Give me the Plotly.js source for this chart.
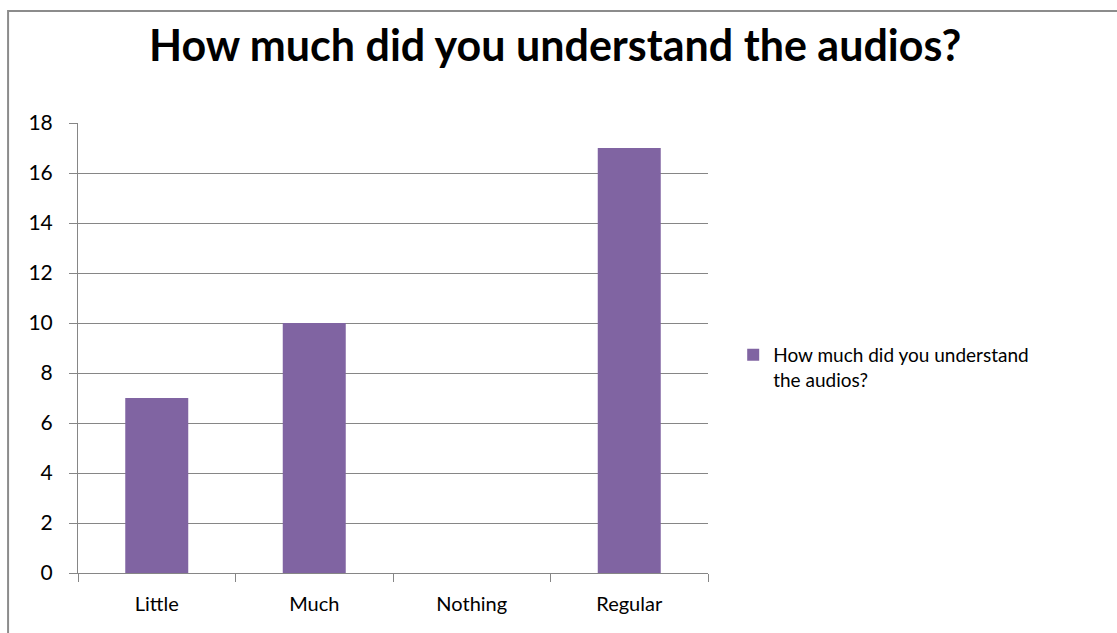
<!DOCTYPE html>
<html>
<head>
<meta charset="utf-8">
<script src="https://cdn.plot.ly/plotly-3.0.1.min.js"></script>
<style>html,body{margin:0;padding:0;background:#fff;}#chart{width:1117px;height:633px;}</style>
</head>
<body>
<div id="chart"></div>
<script>
var categories = ["Little", "Much", "Nothing", "Regular"];
var seriesName = "How much did you understand the audios?";
var values = [7, 10, 0, 17];
var yTicks = [0, 2, 4, 6, 8, 10, 12, 14, 16, 18];

var trace = {
  type: "bar",
  x: categories,
  y: values,
  name: "How much did you understand<br>the audios?",
  marker: {color: "#8064A2"},
  hoverinfo: "x+y"
};

var layout = {
  width: 1117,
  height: 633,
  margin: {l: 78, r: 409, t: 123, b: 60},
  paper_bgcolor: "#ffffff",
  plot_bgcolor: "#ffffff",
  font: {family: "Lato, 'Open Sans', sans-serif", color: "#000000", size: 19},
  title: {
    text: seriesName,
    font: {family: "Lato, 'Open Sans', sans-serif", size: 43, color: "#000000", weight: "bold"},
    x: 0.497, xanchor: "center", xref: "container",
    y: 0.928, yanchor: "middle", yref: "container"
  },
  bargap: 0.6,
  showlegend: true,
  legend: {
    x: 1.04, xanchor: "left", y: 0.457, yanchor: "middle",
    valign: "top",
    font: {size: 19, color: "#000000"},
    itemwidth: 30,
    traceorder: "normal",
    bgcolor: "rgba(0,0,0,0)"
  },
  xaxis: {
    type: "category",
    showgrid: false,
    showline: true,
    linecolor: "#868686",
    linewidth: 1,
    ticks: "outside",
    tickson: "boundaries",
    ticklen: 8,
    tickcolor: "#868686",
    tickfont: {size: 20, color: "#000000"},
    ticklabelstandoff: 13,
    fixedrange: true
  },
  yaxis: {
    range: [0, 18],
    tickvals: yTicks,
    ticktext: yTicks.map(String),
    showgrid: true,
    gridcolor: "#868686",
    gridwidth: 1,
    zeroline: true,
    zerolinecolor: "#868686",
    showline: true,
    linecolor: "#868686",
    ticks: "outside",
    ticklen: 8,
    tickcolor: "#868686",
    tickfont: {size: 21, color: "#000000"},
    ticklabelstandoff: 12,
    fixedrange: true
  },
  shapes: [
    {type: "rect", xref: "paper", yref: "paper", x0: -0.111, x1: 1.7, y0: -0.2, y1: 1.249,
     line: {color: "#8c8c8c", width: 2}, fillcolor: "rgba(0,0,0,0)", layer: "below"}
  ]
};

Plotly.newPlot("chart", [trace], layout, {displayModeBar: false, staticPlot: true});
</script>
</body>
</html>
